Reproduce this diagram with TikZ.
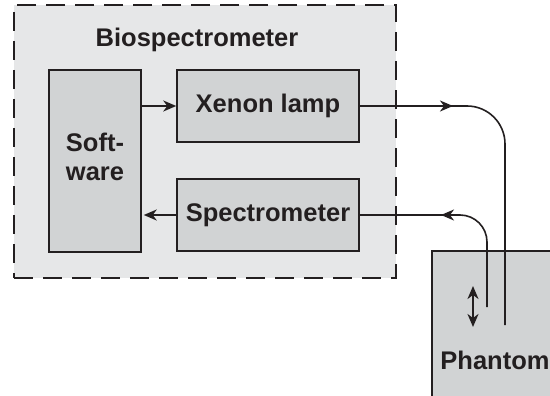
\documentclass[tikz,border=0pt]{standalone}
\usepackage{fontspec}
\setmainfont{Liberation Sans}
\usetikzlibrary{arrows.meta}
\definecolor{outerfill}{HTML}{E6E7E8}
\definecolor{boxfill}{HTML}{D1D3D4}
\definecolor{ink}{HTML}{231F20}
\begin{document}
\begin{tikzpicture}[x=1pt,y=-1pt,
  unit/.style={draw=ink, fill=boxfill, line width=1.5pt, inner sep=0pt},
  lbl/.style={font=\fontsize{25.5}{30}\selectfont\bfseries, text=ink, inner sep=0pt},
  link/.style={draw=ink, line width=1.6pt},
  tip/.style={-{Stealth[length=13pt,width=11pt,inset=4pt]}},
  dtip/.style={{Stealth[length=13pt,width=11pt,inset=4pt]}-{Stealth[length=13pt,width=11pt,inset=4pt]}}]
\useasboundingbox (0,0) rectangle (550,396);
\clip (0,0) rectangle (550,396);

% instrument enclosure
\node[draw=ink, fill=outerfill, line width=1.8pt, dash pattern=on 19pt off 10pt,
      minimum width=382pt, minimum height=273pt, inner sep=0pt] (bio) at (205,141.5) {};
\node[lbl] (title) at (197,40) {Biospectrometer};

% internal units
\node[unit, minimum width=92pt, minimum height=182pt] (soft) at (95,161) {};
\node[lbl, align=center] (softlbl) at (95,157) {Soft-\\[-1pt]ware};
\node[unit, minimum width=182pt, minimum height=72pt] (xen) at (268,106) {};
\node[lbl] (xenlbl) at (xen.center) {Xenon lamp};
\node[unit, minimum width=182pt, minimum height=72pt] (spec) at (268,215) {};
\node[lbl] (speclbl) at (spec.center) {Spectrometer};

% sample
\node[unit, minimum width=140pt, minimum height=160pt] (phan) at (502,331) {};
\node[lbl] (phanlbl) at (495,360) {Phantom};

% control and data arrows
\draw[link,tip] (soft.east |- xen.west) -- (xen.west);
\draw[link,tip] (spec.west) -- ([xshift=2pt]soft.east |- spec.west);

% excitation fibre
\coordinate (fibreA) at (505,325);
\coordinate (tipA) at (453,106);
\draw[link, rounded corners=38pt] (xen.east) -- (fibreA |- xen.east) -- (fibreA);
\draw[link,tip] (xen.east) -- (tipA);

% collection fibre
\coordinate (fibreB) at (487,307);
\coordinate (tipBstart) at (458,215);
\coordinate (tipB) at (441,215);
\draw[link, rounded corners=27pt] (fibreB) -- (fibreB |- spec.east) -- (spec.east);
\draw[link,tip] (tipBstart) -- (tipB);

% probe movement
\coordinate (moveTop) at (473,286);
\coordinate (moveBot) at (473,327);
\draw[link,dtip] (moveTop) -- (moveBot);
\end{tikzpicture}
\end{document}
